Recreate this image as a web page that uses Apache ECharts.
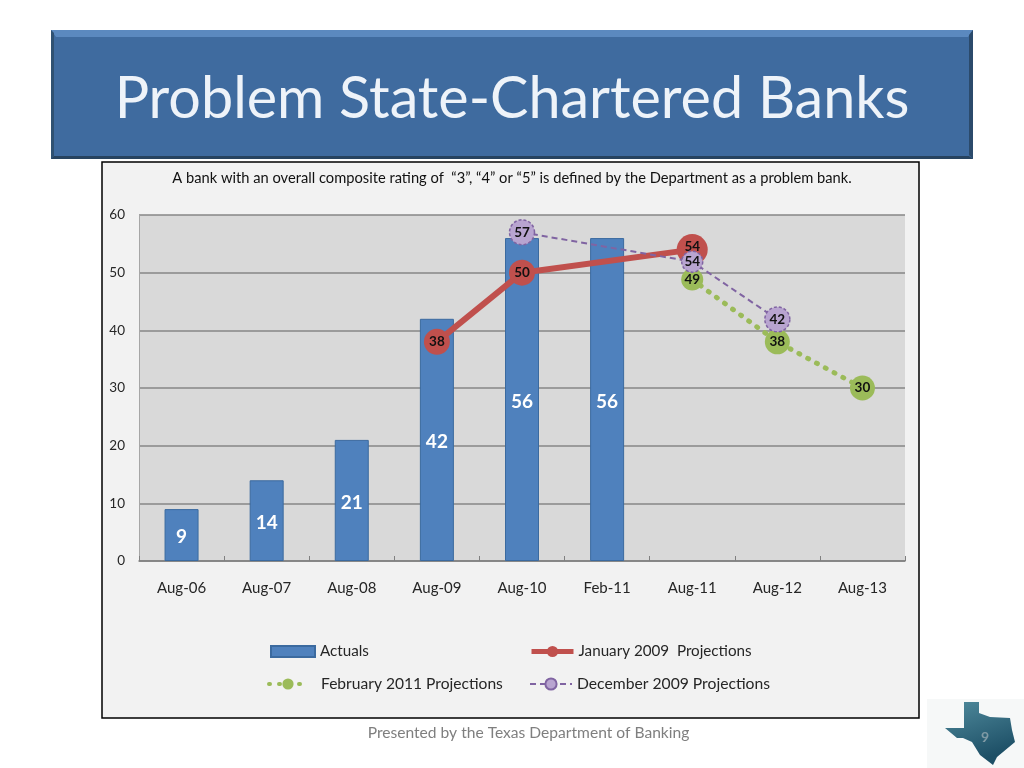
<!DOCTYPE html>
<html><head><meta charset="utf-8">
<style>html,body{margin:0;padding:0;background:#fff}#c{width:1024px;height:768px}</style>
<script src="https://cdn.jsdelivr.net/npm/echarts@6/dist/echarts.min.js"></script>
</head><body><div id="c"></div>
<script>
const categories=['Aug-06','Aug-07','Aug-08','Aug-09','Aug-10','Feb-11','Aug-11','Aug-12','Aug-13'];
const actuals=[9,14,21,42,56,56,null,null,null];
const jan2009=[null,null,null,38,50,null,54,null,null];
const feb2011=[null,null,null,null,null,null,48.8,38,30];
const feb2011Labels=['','','','','','','49','38','30'];
const dec2009=[null,null,null,null,57,null,51.9,41.9,null];
const dec2009Labels=['','','','','57','','54','42',''];
const yTicks=[0,10,20,30,40,50,60];
const FONT='Lato';
const chart=echarts.init(document.getElementById('c'));
const sizes=(arr,map)=>arr.map((v,i)=>v==null?null:{value:v,symbolSize:map[i]||24});
const ptLabel={show:true,position:'inside',color:'#111',fontFamily:FONT,fontWeight:'bold',fontSize:13.5};
const legendBase={orient:'horizontal',itemGap:5,padding:0,selectedMode:false};
const legendText=(size,pad)=>({fontFamily:FONT,fontSize:size,color:'#262626',padding:[0,0,0,pad]});
const janData=sizes(jan2009,{3:26,4:26,6:31});
janData[6].label={offset:[0,-3]};
chart.setOption({
 animation:false,
 backgroundColor:'#ffffff',
 title:[
  {text:'Problem State-Chartered Banks',left:512,textAlign:'center',top:70,padding:0,textStyle:{fontFamily:FONT,fontWeight:'normal',fontSize:57.5,color:'#eef3f9'}},
  {text:'A bank with an overall composite rating of  “3”, “4” or “5” is defined by the Department as a problem bank.',left:512,textAlign:'center',top:171,padding:0,textStyle:{fontFamily:FONT,fontWeight:'normal',fontSize:14.7,color:'#111'}},
  {text:'Presented by the Texas Department of Banking',left:528.5,textAlign:'center',top:725,padding:0,textStyle:{fontFamily:FONT,fontWeight:'normal',fontSize:15.6,color:'#7f7f7f'}}
 ],
 grid:{left:139,top:215,width:766,height:346,backgroundColor:'#d9d9d9',show:true,borderWidth:0},
 xAxis:{type:'category',data:categories,
  axisLine:{lineStyle:{color:'#808080',width:1.5}},
  axisTick:{show:true,inside:true,alignWithLabel:false,length:5,lineStyle:{color:'#808080'}},
  axisLabel:{fontFamily:FONT,fontSize:15,color:'#262626',margin:20}},
 yAxis:{type:'value',min:yTicks[0],max:yTicks[yTicks.length-1],interval:10,
  axisLine:{show:true,lineStyle:{color:'#a6a6a6',width:1}},axisTick:{show:false},
  splitLine:{lineStyle:{color:'#868686',width:1.5}},
  axisLabel:{fontFamily:FONT,fontSize:13.5,color:'#262626',margin:14}},
 legend:[
  {...legendBase,left:270,top:644,itemWidth:44,itemHeight:11,icon:'rect',textStyle:legendText(15.2,0),data:['Actuals']},
  {...legendBase,left:529,top:644,itemWidth:42,itemHeight:14,lineStyle:{width:5},textStyle:legendText(15.2,0),data:['January 2009  Projections']},
  {...legendBase,left:267,top:676,itemWidth:38,itemHeight:14,lineStyle:{width:4},textStyle:legendText(15.6,9),data:['February 2011 Projections']},
  {...legendBase,left:529,top:676,itemWidth:42,itemHeight:14,lineStyle:{width:2},textStyle:legendText(15.7,0),data:['December 2009 Projections']}
 ],
 series:[
  {name:'Actuals',type:'bar',data:actuals,barWidth:34,z:2,
   itemStyle:{color:'#4f81bd',borderColor:'#3b6a9f',borderWidth:1},
   label:{show:true,position:'inside',color:'#fff',fontFamily:FONT,fontWeight:'bold',fontSize:19,offset:[0,2]}},
  {name:'February 2011 Projections',type:'line',connectNulls:true,z:3,data:sizes(feb2011,{6:22,7:25,8:25}),
   symbol:'circle',symbolSize:24,lineStyle:{color:'#9bbb59',width:5,type:[1,9],cap:'round'},
   itemStyle:{color:'#9bbb59'},label:{...ptLabel,formatter:p=>feb2011Labels[p.dataIndex]}},
  {name:'January 2009  Projections',type:'line',connectNulls:true,z:4,data:janData,
   symbol:'circle',symbolSize:26,lineStyle:{color:'#c0504d',width:6},
   itemStyle:{color:'#c0504d'},label:ptLabel},
  {name:'December 2009 Projections',type:'line',connectNulls:true,z:5,data:sizes(dec2009,{4:25,6:21,7:25}),
   symbol:'circle',symbolSize:24,lineStyle:{color:'#8064a2',width:2,type:[6,4]},
   itemStyle:{color:'#b8a4d0',borderColor:'#8064a2',borderWidth:1.5,borderType:[3,2]},
   label:{...ptLabel,formatter:p=>dec2009Labels[p.dataIndex]}}
 ],
 graphic:[
  {type:'rect',z:-10,silent:true,shape:{x:51,y:30,width:922,height:129},style:{fill:'#3f6b9f'}},
  {type:'polygon',z:-9,silent:true,shape:{points:[[51,30],[973,30],[968,37],[56,37]]},style:{fill:'#5b89bf'}},
  {type:'polygon',z:-9,silent:true,shape:{points:[[51,30],[54,33],[54,156],[51,159]]},style:{fill:'#2f5172'}},
  {type:'polygon',z:-9,silent:true,shape:{points:[[973,30],[969,35],[969,155],[973,159]]},style:{fill:'#2b4a6b'}},
  {type:'polygon',z:-9,silent:true,shape:{points:[[51,159],[54,156],[969,156],[973,159]]},style:{fill:'#27435f'}},
  {type:'rect',z:-9,silent:true,shape:{x:102,y:162,width:817,height:556},style:{fill:'#f2f2f2',stroke:'#000',lineWidth:1.5}},
  {type:'rect',z:-9,silent:true,shape:{x:927,y:699,width:97,height:69},style:{fill:'#f6f8f8'}},
  {type:'polygon',z:-8,silent:true,shape:{points:[[964,702],[979,702],[979,713],[990,717],[1010,718],[1012,730],[1015,742],[997,757],[993,765],[980,755],[972,742],[963,738],[957,738],[945,728],[964,728]]},
   style:{fill:{type:'linear',x:0,y:0,x2:0.3,y2:1,colorStops:[{offset:0,color:'#4f8a9c'},{offset:1,color:'#1d4f66'}]}}},
  {type:'text',z:-7,silent:true,style:{text:'9',x:985,y:737,align:'center',verticalAlign:'middle',fill:'#7f9aa5',font:'bold 14px Lato'}}
 ]
});
</script></body></html>
